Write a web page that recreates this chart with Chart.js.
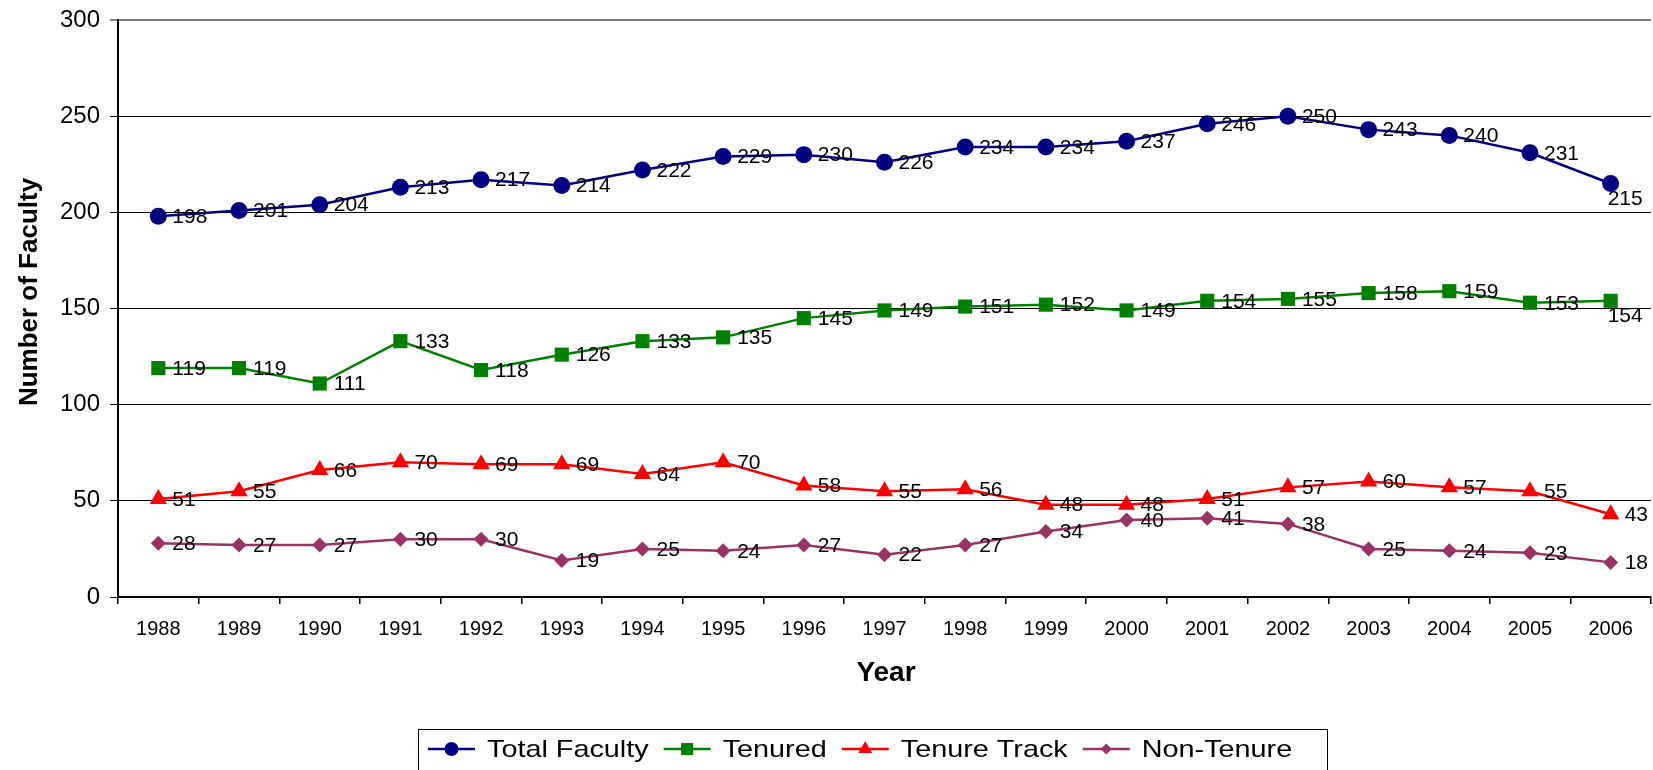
<!DOCTYPE html>
<html>
<head>
<meta charset="utf-8">
<script src="https://cdn.jsdelivr.net/npm/chart.js@4/dist/chart.umd.min.js"></script>
<style>
html,body{margin:0;padding:0;background:#fff;}
canvas{display:block;}
</style>
</head>
<body>
<canvas id="c" width="1653" height="770"></canvas>
<script>
const years = ['1988','1989','1990','1991','1992','1993','1994','1995','1996','1997','1998','1999','2000','2001','2002','2003','2004','2005','2006'];
const totalFaculty = [198,201,204,213,217,214,222,229,230,226,234,234,237,246,250,243,240,231,215];
const tenured = [119,119,111,133,118,126,133,135,145,149,151,152,149,154,155,158,159,153,154];
const tenureTrack = [51,55,66,70,69,69,64,70,58,55,56,48,48,51,57,60,57,55,43];
const nonTenure = [28,27,27,30,30,19,25,24,27,22,27,34,40,41,38,25,24,23,18];
const yTicks = [0,50,100,150,200,250,300];

const FONT = '"Liberation Sans", Arial, Helvetica, sans-serif';

const seriesStyle = [
  {label:'Total Faculty', color:'#000080', style:'circle', radius:8.5, legendRadius:7},
  {label:'Tenured', color:'#008000', style:'rect', radius:10, legendRadius:8.5},
  {label:'Tenure Track', color:'#FF0000', style:'triangle', radius:10, legendRadius:8},
  {label:'Non-Tenure', color:'#993366', style:'rectRot', radius:7.5, legendRadius:5.5}
];
const seriesData = [totalFaculty, tenured, tenureTrack, nonTenure];

function drawMarker(ctx, style, x, y, r, color){
  ctx.save();
  ctx.fillStyle = color;
  ctx.beginPath();
  if (style === 'circle') { ctx.arc(x, y, r, 0, Math.PI*2); }
  else if (style === 'rect') { const s = r*Math.SQRT1_2; ctx.rect(x-s, y-s, 2*s, 2*s); }
  else if (style === 'triangle') {
    ctx.moveTo(x, y - r); ctx.lineTo(x + r*0.866, y + r*0.5); ctx.lineTo(x - r*0.866, y + r*0.5); ctx.closePath();
  } else if (style === 'rectRot') {
    ctx.moveTo(x, y - r); ctx.lineTo(x + r, y); ctx.lineTo(x, y + r); ctx.lineTo(x - r, y); ctx.closePath();
  }
  ctx.fill();
  ctx.restore();
}

const valueLabels = {
  id: 'valueLabels',
  afterDatasetsDraw(chart){
    const ctx = chart.ctx;
    ctx.save();
    ctx.font = '21px ' + FONT;
    ctx.fillStyle = '#000';
    chart.data.datasets.forEach((ds, i) => {
      const meta = chart.getDatasetMeta(i);
      meta.data.forEach((pt, j) => {
        const t = String(ds.data[j]);
        const w = ctx.measureText(t).width;
        const x = pt.x + 14;
        if (x + w > chart.width + 2) {
          ctx.textAlign = 'left';
          ctx.textBaseline = 'top';
          ctx.fillText(t, pt.x - 3, pt.y + 5);
        } else {
          ctx.textAlign = 'left';
          ctx.textBaseline = 'middle';
          ctx.fillText(t, x, pt.y + 1);
        }
      });
    });
    ctx.restore();
  }
};

const extras = {
  id: 'extras',
  afterDraw(chart){
    const ctx = chart.ctx;
    ctx.save();
    ctx.fillStyle = '#000';
    ctx.font = 'bold 26px ' + FONT;
    ctx.textAlign = 'center';
    ctx.textBaseline = 'middle';
    ctx.save();
    ctx.translate(30, 292);
    ctx.rotate(-Math.PI/2);
    ctx.fillText('Number of Faculty', 0, 0);
    ctx.restore();
    ctx.font = 'bold 28px ' + FONT;
    ctx.fillText('Year', 886, 673);

    // Legend
    const boxX = 418, boxY = 729, boxW = 909, boxH = 60;
    ctx.strokeStyle = '#000';
    ctx.lineWidth = 1;
    ctx.strokeRect(boxX + 0.5, boxY + 0.5, boxW, boxH);
    const ly = 749;
    let x = 428;
    const sx = 1.2;
    ctx.font = '24px ' + FONT;
    ctx.textAlign = 'left';
    ctx.textBaseline = 'middle';
    seriesStyle.forEach((s) => {
      ctx.strokeStyle = s.color;
      ctx.lineWidth = 2.5;
      ctx.beginPath();
      ctx.moveTo(x, ly); ctx.lineTo(x + 47, ly); ctx.stroke();
      drawMarker(ctx, s.style, x + 23.5, ly, s.legendRadius, s.color);
      const tx = x + 59;
      const tw = ctx.measureText(s.label).width * sx;
      ctx.save();
      ctx.translate(tx, ly + 1);
      ctx.scale(sx, 1);
      ctx.fillStyle = '#000';
      ctx.fillText(s.label, 0, 0);
      ctx.restore();
      x = tx + tw + 15;
    });
    ctx.restore();
  }
};

const datasets = seriesStyle.map((s, i) => ({
  label: s.label,
  data: seriesData[i],
  borderColor: s.color,
  backgroundColor: s.color,
  borderWidth: 2.5,
  pointStyle: s.style,
  pointRadius: s.radius,
  pointHoverRadius: s.radius,
  pointBackgroundColor: s.color,
  pointBorderColor: s.color,
  pointBorderWidth: 0,
  tension: 0,
  fill: false,
  clip: false
}));

new Chart(document.getElementById('c'), {
  type: 'line',
  data: { labels: years, datasets },
  options: {
    responsive: false,
    animation: false,
    devicePixelRatio: 1,
    layout: { autoPadding: false, padding: { top: 20, right: 2, left: 0, bottom: 0 } },
    plugins: { legend: { display: false }, tooltip: { enabled: false }, title: { display: false } },
    scales: {
      x: {
        type: 'category',
        offset: true,
        afterFit(scale){ scale.height = 173; scale.paddingLeft = 0; scale.paddingRight = 0; },
        grid: { offset: true, drawOnChartArea: false, drawTicks: true, tickLength: 7, color: '#000', lineWidth: 1.5 },
        border: { display: true, color: '#000', width: 2 },
        ticks: { color: '#000', font: { family: FONT, size: 20 }, padding: 13, maxRotation: 0, autoSkip: false }
      },
      y: {
        min: 0,
        max: 300,
        afterFit(scale){ scale.width = 118; scale.paddingTop = 0; scale.paddingBottom = 0; },
        afterBuildTicks(scale){ scale.ticks = yTicks.map(v => ({ value: v })); },
        grid: {
          color: (c) => (c.tick && c.tick.value === 300) ? '#808080' : '#000',
          lineWidth: (c) => (c.tick && c.tick.value === 300) ? 2 : 1,
          tickLength: 8,
          drawTicks: true
        },
        border: { display: true, color: '#000', width: 2 },
        ticks: { color: '#000', font: { family: FONT, size: 24 }, padding: 10, stepSize: 50 }
      }
    }
  },
  plugins: [valueLabels, extras]
});
</script>
</body>
</html>
